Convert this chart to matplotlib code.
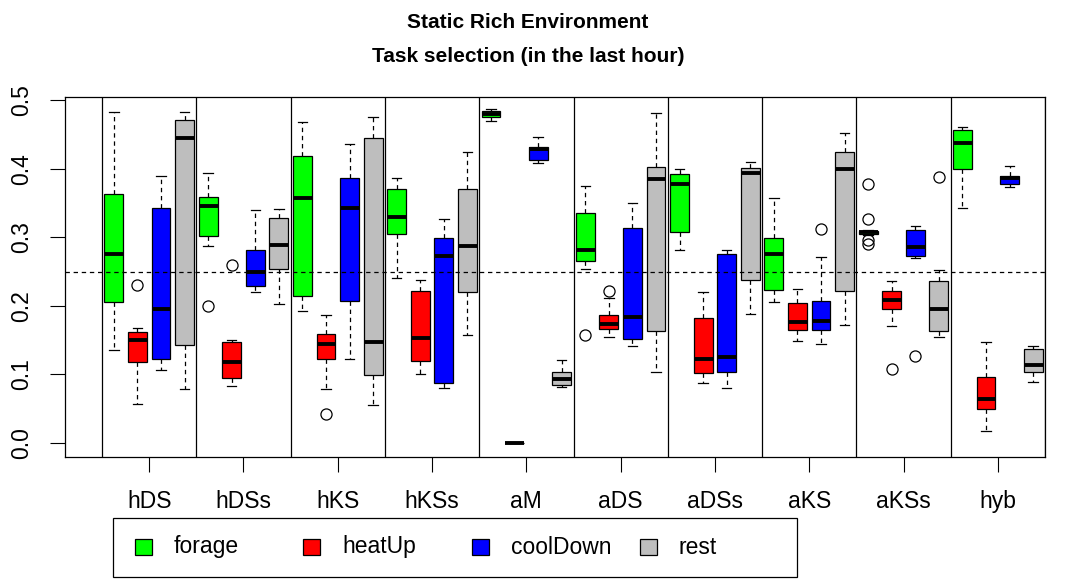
import numpy as np
import matplotlib.pyplot as plt
from matplotlib.patches import Rectangle

plt.rcParams['font.family'] = ['Liberation Sans', 'DejaVu Sans']

groups = ['hDS', 'hDSs', 'hKS', 'hKSs', 'aM', 'aDS', 'aDSs', 'aKS', 'aKSs', 'hyb']
tasks = ['forage', 'heatUp', 'coolDown', 'rest']
colors = ['#00FF00', '#FF0000', '#0000FF', '#BEBEBE']

# per group: whisker low, Q1, median, Q3, whisker high
forage = [
    [0.135, 0.206, 0.275, 0.363, 0.483],
    [0.287, 0.302, 0.345, 0.358, 0.394],
    [0.193, 0.215, 0.357, 0.419, 0.468],
    [0.241, 0.305, 0.329, 0.371, 0.387],
    [0.469, 0.475, 0.479, 0.484, 0.487],
    [0.253, 0.265, 0.281, 0.336, 0.375],
    [0.282, 0.307, 0.378, 0.392, 0.399],
    [0.206, 0.223, 0.275, 0.299, 0.357],
    [0.303, 0.305, 0.307, 0.309, 0.311],
    [0.342, 0.399, 0.438, 0.456, 0.461],
]
heatUp = [
    [0.057, 0.118, 0.150, 0.162, 0.168],
    [0.083, 0.095, 0.118, 0.147, 0.150],
    [0.079, 0.123, 0.144, 0.159, 0.186],
    [0.101, 0.119, 0.153, 0.221, 0.237],
    [0.000, 0.000, 0.000, 0.000, 0.000],
    [0.154, 0.166, 0.174, 0.187, 0.212],
    [0.087, 0.102, 0.123, 0.182, 0.220],
    [0.149, 0.165, 0.177, 0.204, 0.225],
    [0.171, 0.195, 0.208, 0.221, 0.236],
    [0.018, 0.049, 0.064, 0.096, 0.147],
]
coolDown = [
    [0.107, 0.123, 0.196, 0.343, 0.390],
    [0.220, 0.229, 0.249, 0.281, 0.339],
    [0.122, 0.207, 0.343, 0.386, 0.436],
    [0.080, 0.088, 0.273, 0.299, 0.327],
    [0.408, 0.412, 0.429, 0.432, 0.446],
    [0.142, 0.152, 0.183, 0.313, 0.350],
    [0.080, 0.103, 0.126, 0.276, 0.281],
    [0.144, 0.164, 0.178, 0.207, 0.271],
    [0.270, 0.273, 0.286, 0.311, 0.317],
    [0.373, 0.378, 0.387, 0.390, 0.404],
]
rest = [
    [0.078, 0.143, 0.444, 0.471, 0.483],
    [0.203, 0.253, 0.288, 0.328, 0.341],
    [0.055, 0.099, 0.147, 0.444, 0.475],
    [0.157, 0.220, 0.287, 0.371, 0.425],
    [0.081, 0.084, 0.093, 0.103, 0.121],
    [0.103, 0.163, 0.385, 0.402, 0.481],
    [0.188, 0.238, 0.394, 0.401, 0.410],
    [0.172, 0.222, 0.399, 0.425, 0.452],
    [0.154, 0.163, 0.195, 0.236, 0.252],
    [0.089, 0.104, 0.114, 0.137, 0.141],
]

forage_out = {'hDSs': [0.199], 'aDS': [0.158], 'aKSs': [0.377, 0.327, 0.296, 0.290]}
heatUp_out = {'hDS': [0.230], 'hDSs': [0.259], 'hKS': [0.042], 'aDS': [0.222], 'aKSs': [0.108]}
coolDown_out = {'aKS': [0.312], 'aKSs': [0.127]}
rest_out = {'aKSs': [0.388]}

all_stats = [forage, heatUp, coolDown, rest]
all_out = [forage_out, heatUp_out, coolDown_out, rest_out]

W, H = 1072, 579
fig = plt.figure(figsize=(W / 100, H / 100), dpi=100)
ax = fig.add_axes([65 / W, 1 - 457 / H, 980 / W, 360 / H])

dash = (0, (3.5, 3))
n = len(tasks)
for k in range(n):
    st = []
    for g, row in enumerate(all_stats[k]):
        lo, q1, med, q3, hi = row
        st.append(dict(whislo=lo, q1=q1, med=med, q3=q3, whishi=hi,
                       fliers=all_out[k].get(groups[g], [])))
    pos = [1 + n * g + k for g in range(len(groups))]
    ax.bxp(st, positions=pos, widths=0.8, capwidths=0.4, patch_artist=True,
           manage_ticks=False,
           boxprops=dict(facecolor=colors[k], edgecolor='black', linewidth=0.9),
           medianprops=dict(color='black', linewidth=2.8, solid_capstyle='butt'),
           whiskerprops=dict(color='black', linewidth=0.9, linestyle=dash),
           capprops=dict(color='black', linewidth=0.9),
           flierprops=dict(marker='o', markerfacecolor='none', markeredgecolor='black',
                           markersize=8, markeredgewidth=0.9))

for xs in 0.5 + n * np.arange(len(groups) + 1):
    ax.axvline(xs, color='black', linewidth=0.9)
ax.axhline(0.25, color='black', linewidth=0.9, linestyle=dash)

ax.set_xlim(-1.07, 40.5)
ax.set_ylim(-0.0205, 0.5045)
ax.set_xticks(2.5 + n * np.arange(len(groups)))
ax.set_xticklabels(groups)
ax.set_yticks(np.arange(0, 0.51, 0.1))
ax.set_yticklabels(['%.1f' % v for v in np.arange(0, 0.51, 0.1)], rotation=90, va='center')
ax.tick_params(axis='both', length=10.8, width=0.8, labelsize=16.5, direction='out')
ax.tick_params(axis='x', pad=13)
ax.tick_params(axis='y', pad=12)
for s in ax.spines.values():
    s.set_linewidth(0.9)

fig.text(528 / W, 1 - 22 / H, 'Static Rich Environment', ha='center', va='center',
         fontsize=15, fontweight='bold')
fig.text(528 / W, 1 - 57 / H, 'Task selection (in the last hour)', ha='center', va='center',
         fontsize=15, fontweight='bold')

# legend drawn like R's legend(horiz=TRUE)
fig.add_artist(Rectangle((113 / W, 1 - 577 / H), 684 / W, 59 / H, transform=fig.transFigure,
                         facecolor='white', edgecolor='black', linewidth=0.9))
for i, t in enumerate(tasks):
    x0 = 135 + 168.3 * i
    fig.add_artist(Rectangle((x0 / W, 1 - 555 / H), 17 / W, 16 / H, transform=fig.transFigure,
                             facecolor=colors[i], edgecolor='black', linewidth=0.9))
    fig.text((x0 + 39) / W, 1 - 547 / H, t, ha='left', va='center', fontsize=16.5)

fig.savefig('out.png', dpi=100)
